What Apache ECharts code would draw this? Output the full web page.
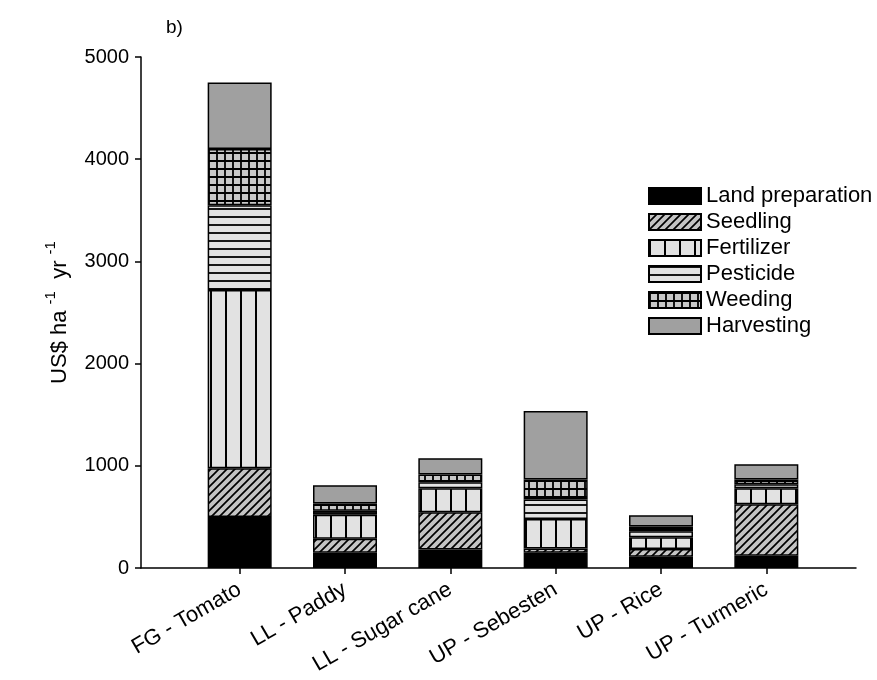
<!DOCTYPE html>
<html>
<head>
<meta charset="utf-8">
<script src="https://cdn.jsdelivr.net/npm/echarts@6/dist/echarts.min.js"></script>
<style>
  html, body { margin: 0; padding: 0; background: #fff; }
  #chart { width: 877px; height: 680px; }
</style>
</head>
<body>
<div id="chart"></div>
<script>
// Production cost by activity (US$ ha-1 yr-1) for each land use / crop
const categories = ['FG - Tomato', 'LL - Paddy', 'LL - Sugar cane', 'UP - Sebesten', 'UP - Rice', 'UP - Turmeric'];
const landPreparation = [500, 150, 180, 150, 110, 120];
const seedling        = [475, 135, 365, 40, 75, 505];
const fertilizer      = [1745, 235, 235, 290, 115, 155];
const pesticide       = [830, 40, 60, 190, 60, 40];
const weeding         = [550, 70, 75, 195, 45, 45];
const harvesting      = [650, 180, 160, 670, 110, 150];
const yTicks = [0, 1000, 2000, 3000, 4000, 5000];

const FONT = 'Liberation Sans, Arial, sans-serif';

// Small tiles used as fill patterns
function tile(size, bg, draw) {
  const c = document.createElement('canvas');
  c.width = size[0]; c.height = size[1];
  const g = c.getContext('2d');
  g.fillStyle = bg;
  g.fillRect(0, 0, size[0], size[1]);
  g.strokeStyle = '#000';
  draw(g, size[0], size[1]);
  return { image: c, repeat: 'repeat' };
}
const hatchDiag = tile([8, 8], '#c4c4c4', (g, w, h) => {
  g.lineWidth = 1.7;
  g.beginPath();
  g.moveTo(-1, h + 1); g.lineTo(w + 1, -1);
  g.moveTo(-2, 2); g.lineTo(2, -2);
  g.moveTo(w - 2, h + 2); g.lineTo(w + 2, h - 2);
  g.stroke();
});
const hatchVert = tile([15, 10], '#e2e2e2', (g, w, h) => {
  g.lineWidth = 2;
  g.beginPath(); g.moveTo(1, 0); g.lineTo(1, h); g.stroke();
});
const hatchHoriz = tile([10, 8], '#e2e2e2', (g, w, h) => {
  g.lineWidth = 1.8;
  g.beginPath(); g.moveTo(0, 1); g.lineTo(w, 1); g.stroke();
});
const hatchGrid = tile([8, 8], '#c8c8c8', (g, w, h) => {
  g.lineWidth = 1.8;
  g.beginPath();
  g.moveTo(1, 0); g.lineTo(1, h);
  g.moveTo(0, 1); g.lineTo(w, 1);
  g.stroke();
});

const layers = [
  { name: 'Land preparation', data: landPreparation, fill: '#000000' },
  { name: 'Seedling', data: seedling, fill: hatchDiag },
  { name: 'Fertilizer', data: fertilizer, fill: hatchVert },
  { name: 'Pesticide', data: pesticide, fill: hatchHoriz },
  { name: 'Weeding', data: weeding, fill: hatchGrid },
  { name: 'Harvesting', data: harvesting, fill: '#a0a0a0' }
];

const chart = echarts.init(document.getElementById('chart'), null, { renderer: 'canvas' });

chart.setOption({
  animation: false,
  backgroundColor: '#ffffff',
  textStyle: { fontFamily: FONT, color: '#000' },
  title: {
    text: 'b)', left: 161, top: 13,
    textStyle: { fontFamily: FONT, fontSize: 19, fontWeight: 'normal', color: '#000' }
  },
  legend: {
    orient: 'vertical', left: 643, top: 180,
    icon: 'rect',
    itemWidth: 52, itemHeight: 16, itemGap: 4,
    textStyle: { fontFamily: FONT, fontSize: 22, color: '#000', padding: [0, 0, 0, 0] },
    data: layers.map(l => l.name)
  },
  grid: [
    { left: 141, right: 21, top: 57, bottom: 112 },
    { left: 187, width: 632, top: 57, bottom: 112 }
  ],
  xAxis: [
    {
      type: 'value', gridIndex: 0, min: 0, max: 1,
      axisLine: { show: true, lineStyle: { color: '#000', width: 1.5 } },
      axisTick: { show: false }, axisLabel: { show: false }, splitLine: { show: false }
    },
    {
      type: 'category', gridIndex: 1, data: categories,
      axisLine: { show: false },
      axisTick: { show: true, alignWithLabel: true, length: 6, inside: false, lineStyle: { color: '#000', width: 1.5 } },
      axisLabel: { rotate: 30, interval: 0, margin: 20, fontFamily: FONT, fontSize: 22, color: '#000' },
      splitLine: { show: false }
    }
  ],
  yAxis: [
    {
      type: 'value', gridIndex: 0, min: 0, max: 5000, interval: 1000,
      name: '{n|US$ ha }{s|-1}{n|  yr }{s|-1}',
      nameLocation: 'middle', nameGap: 70, nameRotate: 90,
      nameTextStyle: {
        fontFamily: FONT, color: '#000',
        rich: {
          n: { fontFamily: FONT, fontSize: 22, color: '#000', lineHeight: 28, verticalAlign: 'bottom' },
          s: { fontFamily: FONT, fontSize: 15, color: '#000', lineHeight: 28, verticalAlign: 'top', padding: [0, 0, 11, 0] }
        }
      },
      axisLine: { show: true, lineStyle: { color: '#000', width: 1.5 } },
      axisTick: { show: true, length: 6, inside: false, lineStyle: { color: '#000', width: 1.5 } },
      axisLabel: {
        margin: 12, fontFamily: FONT, fontSize: 20, color: '#000',
        formatter: v => (yTicks.indexOf(v) >= 0 ? String(v) : '')
      },
      splitLine: { show: false }
    },
    {
      type: 'value', gridIndex: 1, min: 0, max: 5000, interval: 1000, show: false
    }
  ],
  series: layers.map(l => ({
    name: l.name,
    type: 'bar',
    stack: 'cost',
    xAxisIndex: 1,
    yAxisIndex: 1,
    barWidth: 64,
    data: l.data,
    itemStyle: { color: l.fill, borderColor: '#000', borderWidth: 1.5 },
    emphasis: { disabled: true }
  }))
});
</script>
</body>
</html>
